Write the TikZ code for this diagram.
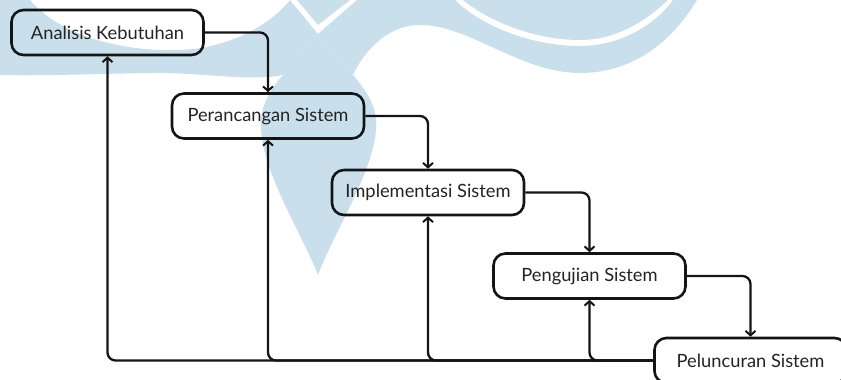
\documentclass[tikz,border=0pt]{standalone}
\usepackage{fontspec}
\setmainfont{Lato}
\usetikzlibrary{%
  arrows.meta%
}
\definecolor{wmblue}{RGB}{202,223,236}
\definecolor{ink}{RGB}{20,20,20}
\definecolor{txt}{RGB}{35,35,35}
\tikzset{>={Straight Barb[length=4.5pt,width=10pt,line width=2pt]}}
\tikzset{
  phase/.style={draw=ink, line width=2.6pt, rounded corners=12pt,
    minimum width=192pt, minimum height=45pt, inner sep=0pt,
    text=txt, font=\fontsize{18.3}{21}\selectfont},
  flow/.style={->, draw=ink, line width=2.3pt, rounded corners=8pt},
  wm/.style={fill=wmblue, draw=none}
}

\begin{document}
\begin{tikzpicture}[x=1pt,y=-1pt]
        \useasboundingbox (0,0) rectangle (841,380);
        % logo in the background
        \fill[wm] (0,0) -- (30,0) .. controls (60,35) and (120,52) ..
        (180,50) .. controls (230,48) and (270,25) .. (290,0) --
        (318,34) -- (283,75) .. controls (250,82) and (200,72) ..
        (150,73) .. controls (90,74) and (40,76) .. (0,75) -- cycle;
        \fill[wm] (318,34) -- (357,0) -- (455,0) .. controls (480,25)
        and (530,46) .. (580,46) .. controls (620,46) and (655,25) ..
        (673,0) -- (697,0) .. controls (670,45) and (630,73) ..
        (580,73) .. controls (520,73) and (470,25) .. (420,25)
        .. controls (385,25) and (362,55) .. (353,75) -- cycle;
        \fill[wm] (463,0) .. controls (490,22) and (535,40) .. (580,40)
        .. controls (615,40) and (645,22) .. (668,0) -- cycle;
        \fill[wm] (297,0) -- (318,25) -- (350,0) -- cycle;
        \fill[wm] (283,75) -- (318,34) -- (353,75) .. controls (370,95)
        and (378,110) .. (376,130) .. controls (372,175) and (335,230)
        .. (318,275) .. controls (300,230) and (264,175) .. (261,130)
        .. controls (259,110) and (268,92) .. (283,75) -- cycle;
        % phases
        \node[phase] (ana) at (107.5,32.5) {Analisis Kebutuhan};
        \node[phase] (per) at (268,116) {Perancangan Sistem};
        \node[phase] (imp) at (428,192.5) {Implementasi Sistem};
        \node[phase] (pen) at (589.5,276) {Pengujian Sistem};
        \node[phase] (pel) at (750.5,360.5) {Peluncuran Sistem};
        % forward
        \draw[flow] (ana.east) -| (per.north);
        \draw[flow] (per.east) -| (imp.north);
        \draw[flow] (imp.east) -| (pen.north);
        \draw[flow] (pen.east) -| (pel.north);
        % back
        \draw[flow] (pel.west) -| (ana.south);
        \draw[flow] (pel.west) -| (per.south);
        \draw[flow] (pel.west) -| (imp.south);
        \draw[flow] (pel.west) -| (pen.south);
      \end{tikzpicture}
\end{document}
